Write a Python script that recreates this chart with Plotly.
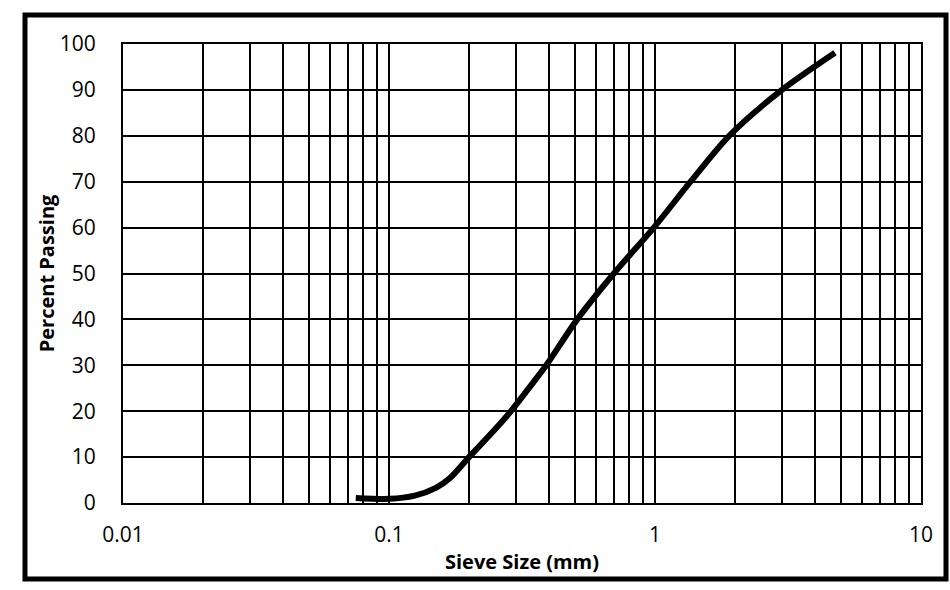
import plotly.graph_objects as go

sieve_mm = [0.075, 0.1, 0.125, 0.15, 0.17, 0.2, 0.25, 0.29, 0.35, 0.39, 0.51, 0.70, 0.99, 1.36, 1.9, 3.0, 4.75]
percent_passing = [1.1, 0.9, 1.6, 3.3, 5.5, 10, 16.0, 20.3, 26.4, 30, 40, 50, 60, 70, 80, 90, 98.1]

x_ticks = [0.01, 0.1, 1, 10]
x_ticklabels = ["0.01", "0.1", "1", "10"]
y_ticks = list(range(0, 101, 10))

W, H = 950, 590
L, R, T, B = 123, 29, 44, 87
pw, ph = W - L - R, H - T - B

fig = go.Figure()
fig.add_trace(go.Scatter(
    x=sieve_mm, y=percent_passing, mode="lines",
    line=dict(color="black", width=6, shape="spline", smoothing=0.8),
    showlegend=False, hoverinfo="skip"))

font = "Open Sans, Liberation Sans, sans-serif"
fig.update_layout(
    width=W, height=H,
    margin=dict(l=L, r=R, t=T, b=B),
    paper_bgcolor="white", plot_bgcolor="white",
    font=dict(family=font, color="black", size=21),
    xaxis=dict(
        type="log", range=[-2, 1],
        tickvals=x_ticks, ticktext=x_ticklabels,
        showgrid=True, gridcolor="black", gridwidth=2,
        minor=dict(dtick="D1", showgrid=True, gridcolor="black", gridwidth=1.8, ticklen=0),
        showline=True, linecolor="black", linewidth=2, mirror=True,
        ticks="", ticklabelstandoff=12, zeroline=False,
        title=dict(text="<b>Sieve Size (mm)</b>", font=dict(size=20), standoff=8),
    ),
    yaxis=dict(
        range=[0, 100], tickvals=y_ticks,
        showgrid=True, gridcolor="black", gridwidth=2,
        showline=True, linecolor="black", linewidth=2, mirror=True,
        ticks="", ticklabelstandoff=21, zeroline=False,
        title=dict(text="<b>Percent Passing</b>", font=dict(size=20), standoff=0),
    ),
)

# outer frame
fig.add_shape(type="rect", xref="paper", yref="paper",
              x0=(25 - L) / pw, x1=(946 - L) / pw,
              y0=(H - B - 579) / ph, y1=(H - B - 15) / ph,
              line=dict(color="black", width=5), layer="above")

fig.write_html("out.html", config={"displayModeBar": False},
               post_script="document.body.style.margin='0px';")
